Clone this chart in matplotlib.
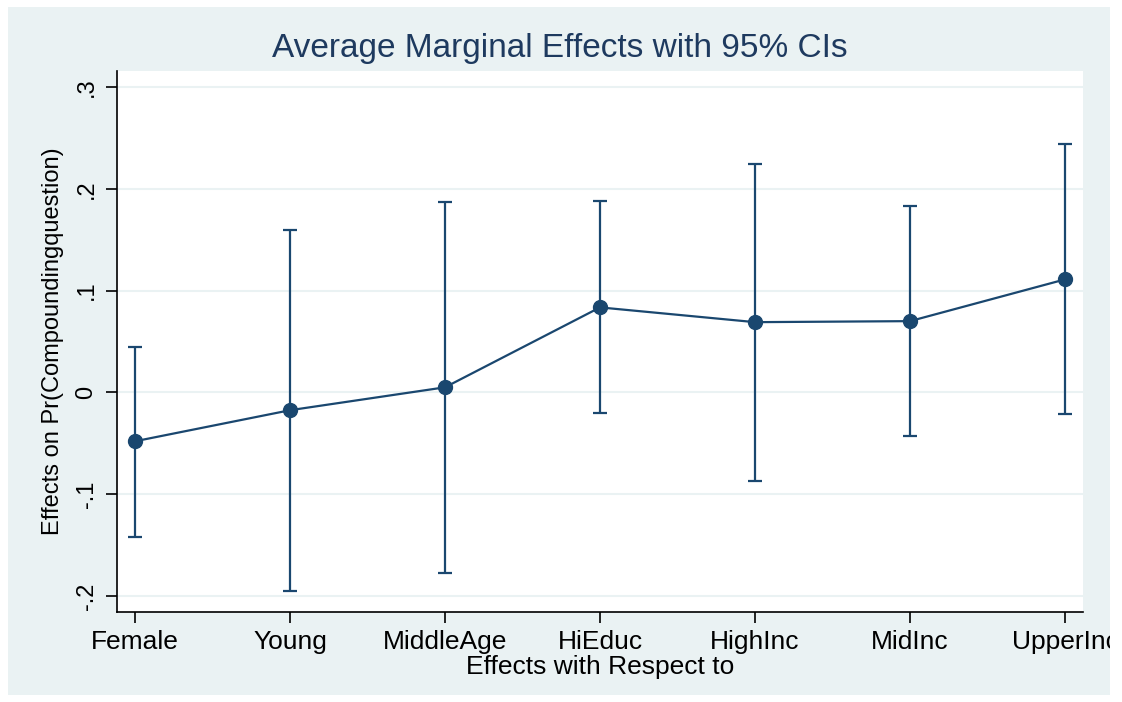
import numpy as np
import matplotlib.pyplot as plt

plt.rcParams['font.family'] = ['Liberation Sans', 'DejaVu Sans']

# average marginal effects and 95% confidence bounds
categories = ['Female', 'Young', 'MiddleAge', 'HiEduc', 'HighInc', 'MidInc', 'UpperInc']
effects = [-0.048, -0.0175, 0.005, 0.0835, 0.069, 0.070, 0.111]
ci_low = [-0.142, -0.195, -0.177, -0.0205, -0.087, -0.043, -0.0215]
ci_high = [0.045, 0.160, 0.187, 0.188, 0.224, 0.183, 0.244]
yticks = [-0.2, -0.1, 0.0, 0.1, 0.2, 0.3]
ytick_labels = ['-.2', '-.1', '0', '.1', '.2', '.3']

navy = '#1a476f'
bg = '#eaf2f3'

fig = plt.figure(figsize=(11.22, 7.02), dpi=100)
fig.patch.set_facecolor('white')
# shaded graph region inside a thin white border
region = plt.Rectangle((8 / 1122, 1 - 695 / 702), 1102 / 1122, 688 / 702,
                       transform=fig.transFigure, facecolor=bg,
                       edgecolor='none', zorder=-10)
fig.patches.append(region)

ax = fig.add_axes([117 / 1122, 1 - 612 / 702, 966 / 1122, 541 / 702])
ax.set_facecolor('white')

x = np.arange(len(categories))
ax.errorbar(x, effects,
            yerr=[np.array(effects) - np.array(ci_low), np.array(ci_high) - np.array(effects)],
            fmt='none', ecolor=navy, elinewidth=1.6, capsize=5, capthick=1.6, zorder=3)
ax.plot(x, effects, color=navy, lw=1.6, marker='o', markersize=10, zorder=4)

ax.set_xlim(-0.116, 6.116)
ax.set_ylim(-0.2157, 0.3157)
ax.set_yticks(yticks)
ax.set_yticklabels(ytick_labels, rotation=90, va='center')
ax.set_xticks(x)
ax.set_xticklabels(categories)
ax.grid(axis='y', color=bg, lw=1.5)
ax.set_axisbelow(True)

for side in ['top', 'right']:
    ax.spines[side].set_visible(False)
for side in ['left', 'bottom']:
    ax.spines[side].set_linewidth(1.2)
    ax.spines[side].set_color('black')
ax.tick_params(axis='both', length=8, width=1.2, colors='black')
ax.tick_params(axis='x', labelsize=19, pad=5)
ax.tick_params(axis='y', labelsize=17, pad=6)

# last category label runs off the shaded region and gets cut there
for lbl in ax.get_xticklabels():
    lbl.set_clip_path(region)
    lbl.set_clip_on(True)

ax.set_ylabel('Effects on Pr(Compoundingquestion)', fontsize=17, labelpad=8)
fig.text(600 / 1122, 1 - 667 / 702, 'Effects with Respect to',
         ha='center', va='center', fontsize=19)
fig.text(560 / 1122, 1 - 48 / 702, 'Average Marginal Effects with 95% CIs',
         ha='center', va='center', fontsize=24, color='#1e3a5f')

fig.savefig('out.png', dpi=100)
